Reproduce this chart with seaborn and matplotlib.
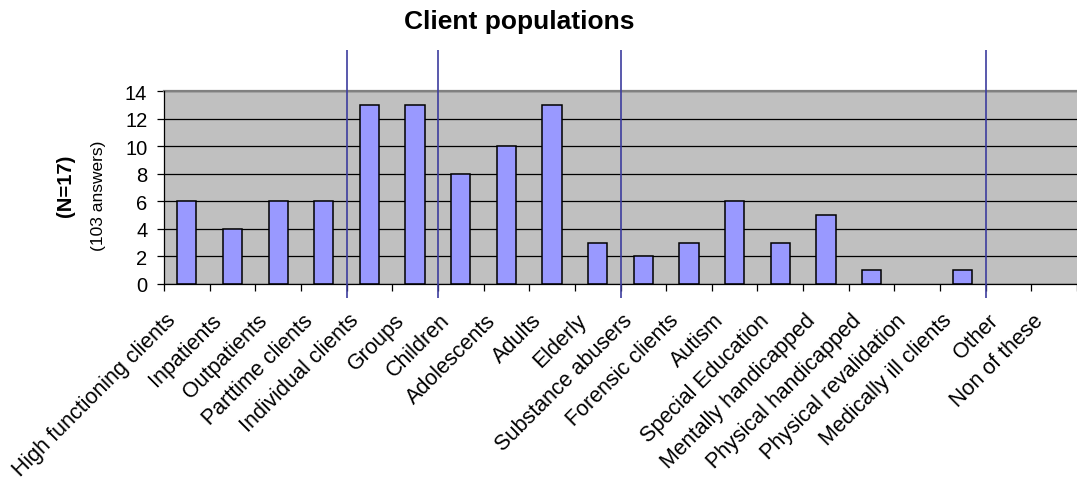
import numpy as np
import pandas as pd
import matplotlib
matplotlib.use("Agg")
import matplotlib.pyplot as plt
from matplotlib.transforms import ScaledTranslation
import seaborn as sns

# Answers per client population
categories = [
    "High functioning clients", "Inpatients", "Outpatients", "Parttime clients",
    "Individual clients", "Groups",
    "Children", "Adolescents", "Adults", "Elderly",
    "Substance abusers", "Forensic clients", "Autism", "Special Education",
    "Mentally handicapped", "Physical handicapped", "Physical revalidation",
    "Medically ill clients",
    "Other", "Non of these",
]
counts = [6, 4, 6, 6, 13, 13, 8, 10, 13, 3, 2, 3, 6, 3, 5, 1, 0, 1, 0, 0]
# number of categories in each thematic block (separated by vertical rules)
group_sizes = [4, 2, 4, 8, 2]
yticks = [0, 2, 4, 6, 8, 10, 12, 14]

sns.set_style("white")
plt.rcParams["font.family"] = ["Liberation Sans", "DejaVu Sans"]
plt.rcParams["text.color"] = "black"
plt.rcParams["xtick.color"] = "black"
plt.rcParams["ytick.color"] = "black"
plt.rcParams["axes.labelcolor"] = "black"

df = pd.DataFrame({"population": categories, "answers": counts})

DPI = 100
W, H = 1077, 485
fig = plt.figure(figsize=(W / DPI, H / DPI), dpi=DPI)
ax = fig.add_axes([164 / W, 1 - 285 / H, (W - 164) / W, (285 - 92) / H])
ax.set_facecolor("#C0C0C0")

sns.barplot(data=df, x="population", y="answers", order=categories,
            color="#9999FF", saturation=1, edgecolor="black", linewidth=1.1,
            width=0.42, ax=ax, zorder=3)
# empty categories get no outline stub on the baseline
for patch in ax.patches:
    if patch.get_height() == 0:
        patch.set_edgecolor("none")

n = len(categories)
ax.set_xlim(-0.5, -0.5 + (W - 164) / 45.8)
ax.set_ylim(0, 14)

# horizontal grid
ax.set_yticks(yticks)
ax.yaxis.grid(True, color="black", linewidth=0.9)
ax.xaxis.grid(False)
ax.set_axisbelow(True)

# spines
for s in ("left", "bottom"):
    ax.spines[s].set_visible(True)
    ax.spines[s].set_color("black")
    ax.spines[s].set_linewidth(0.9)
    ax.spines[s].set_zorder(4)
ax.spines["top"].set_visible(True)
ax.spines["top"].set_color("#808080")
ax.spines["top"].set_linewidth(1.6)
ax.spines["right"].set_visible(False)

# ticks: tick marks at category boundaries, labels at centers
ax.set_xticks(np.arange(n))
ax.set_xticks(np.arange(n + 1) - 0.5, minor=True)
ax.tick_params(axis="x", which="major", length=0, pad=26.5, labelsize=15.5,
               labelcolor="black")
ax.tick_params(axis="x", which="minor", length=5, width=0.9, color="black",
               direction="out", bottom=True)
ax.tick_params(axis="y", length=5, width=0.9, color="black", direction="out",
               left=True, pad=7, labelsize=14.5, labelcolor="black")
ax.set_xlabel("")
ax.set_ylabel("")

shift = ScaledTranslation(-10 / DPI, 0, fig.dpi_scale_trans)
for lbl in ax.get_xticklabels():
    lbl.set_rotation(45)
    lbl.set_rotation_mode("anchor")
    lbl.set_ha("right")
    lbl.set_va("baseline")
    lbl.set_transform(lbl.get_transform() + shift)

# vertical separators between blocks of categories
seps = np.cumsum(group_sizes)[:-1] - 0.5
ax.vlines(seps, -1.05, 17.0, colors="#3D3D9E", linewidth=1.2,
          clip_on=False, zorder=5)

# titles
fig.text(519 / W, 1 - 22 / H, "Client populations", ha="center", va="center",
         fontsize=19, fontweight="bold", color="black")
fig.text(65 / W, 1 - 186 / H, "(N=17)", rotation=90, ha="center", va="center",
         fontsize=14.5, fontweight="bold", color="black")
fig.text(98 / W, 1 - 196 / H, "(103 answers)", rotation=90, ha="center",
         va="center", fontsize=12.5, color="black")

fig.savefig("out.png", dpi=DPI)
